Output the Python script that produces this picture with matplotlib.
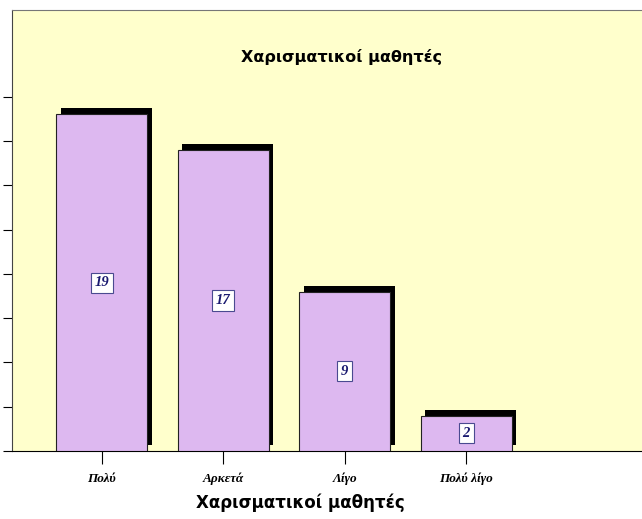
import matplotlib
matplotlib.use('Agg')
from matplotlib import pyplot as plt
from matplotlib import transforms
import numpy as np

# data
categories = ['Πολύ', 'Αρκετά', 'Λίγο', 'Πολύ λίγο']
values = [19, 17, 9, 2]
title = 'Χαρισματικοί μαθητές'

W, H = 642, 519
fig = plt.figure(figsize=(W/100, H/100), dpi=100)
ax = fig.add_axes([12/W, (H-451)/H, 1 - 12/W + 0.01, 441/H])
ax.set_facecolor('#FFFFCC')

x = np.arange(len(categories))
# black shadow, shifted right/up in screen space
shift = transforms.ScaledTranslation(4.5/100, 6/100, fig.dpi_scale_trans)
ax.bar(x, values, width=0.75, color='black', transform=ax.transData + shift, zorder=2)
ax.bar(x, values, width=0.75, color='#DDB8F0', edgecolor='#222222', linewidth=0.8, zorder=3)

for xi, v in zip(x, values):
	ax.text(xi, v/2, str(v), ha='center', va='center', fontsize=10.5, color='#1a1a70',
		family='Liberation Serif', style='italic', fontweight='bold', zorder=4,
		bbox=dict(boxstyle='square,pad=0.25', fc='white', ec='#4a4a90', lw=0.8))

ax.set_xlim(-0.74, 4.5)
ax.set_ylim(0, 24.9)
ax.set_yticks(np.arange(0, 20.1, 2.5))
ax.set_yticklabels([])
ax.tick_params(axis='y', direction='out', length=6.5, width=0.8)
ax.set_xticks(x)
ax.set_xticklabels(categories, family='Liberation Serif', style='italic', fontweight='bold', fontsize=9.5)
ax.tick_params(axis='x', direction='out', length=9.5, width=0.8, pad=6)

ax.spines['right'].set_visible(False)
ax.spines['top'].set_color('#777777')
ax.spines['left'].set_color('#444444')

ax.text((338 - 12) / (642 - 12), (451 - 57) / 441, title, transform=ax.transAxes,
	ha='center', va='center', fontsize=11.5, fontweight='bold', family=['Liberation Sans Narrow', 'DejaVu Sans'])
ax.set_xlabel(title, fontsize=12, fontweight='bold', family=['Liberation Sans Narrow', 'DejaVu Sans'])
ax.xaxis.set_label_coords((297 - 12) / (642 - 12), -(493 - 451) / 441)

fig.savefig('out.png', dpi=100)
